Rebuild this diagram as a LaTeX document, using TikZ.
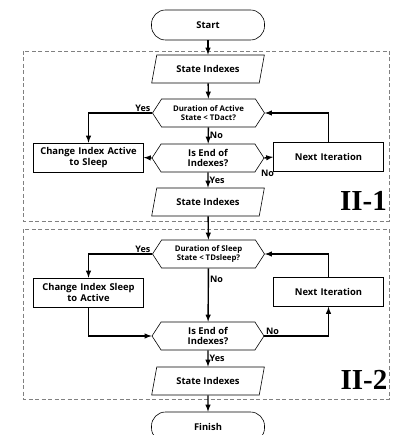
\documentclass[tikz,border=0pt]{standalone}
\usepackage{fontspec}
\setsansfont{Open Sans}
\newfontfamily\labelfont{Liberation Serif}
\usetikzlibrary{shapes.geometric,shapes.symbols,positioning}
\begin{document}
\begin{tikzpicture}[>=latex, x=1pt, y=-1pt,
  every node/.style={font=\sffamily\bfseries\fontsize{9.4}{10.5}\selectfont, align=center},
  term/.style={draw, rounded corners=14pt, minimum width=113pt, minimum height=30pt, line width=.6pt},
  io/.style={draw, trapezium, trapezium left angle=76, trapezium right angle=104, trapezium stretches=true, minimum width=113pt, minimum height=28pt, line width=.6pt},
  dec/.style={draw, signal, signal to=east and west, signal pointer angle=114, minimum width=112pt, minimum height=28pt, line width=.6pt, inner sep=1pt},
  proc/.style={draw, rectangle, text width=107pt, align=center, minimum height=29pt, line width=.6pt, inner sep=1.5pt},
  lbl/.style={inner sep=1pt, font=\sffamily\bfseries\fontsize{9}{9}\selectfont},
  small/.style={font=\sffamily\bfseries\fontsize{7.8}{9}\selectfont},
  line/.style={->, line width=1.4pt},
  grp/.style={draw=gray, dash pattern=on 4pt off 2.5pt, line width=.6pt}
]
\useasboundingbox (0,0) rectangle (393,435);
\draw[grp] (23,51) rectangle (389,221);
\draw[grp] (23,229) rectangle (389,399);
\node[term] (start) at (208,25) {Start};
\node[io] (si1) at (208,69) {State Indexes};
\node[dec, small] (dur1) at (208.5,113) {Duration of Active\\State < TDact?};
\node[proc] (chg1) at (88.5,157.5) {Change Index Active\\to Sleep};
\node[dec] (end1) at (208,158) {Is End of\\Indexes?};
\node[proc] (nxt1) at (328.5,157) {Next Iteration};
\node[io] (si2) at (208,202) {State Indexes};
\node[dec, small] (dur2) at (208.5,254) {Duration of Sleep\\State < TDsleep?};
\node[proc] (chg2) at (88.5,292.5) {Change Index Sleep\\to Active};
\node[dec] (end2) at (208,336) {Is End of\\Indexes?};
\node[proc] (nxt2) at (328.5,292) {Next Iteration};
\node[io] (si3) at (208,381) {State Indexes};
\node[term] (finish) at (208,427) {Finish};
\node[font=\labelfont\bfseries\fontsize{29}{29}\selectfont, inner sep=0pt] (p1) at (363.5,201) {II-1};
\node[font=\labelfont\bfseries\fontsize{29}{29}\selectfont, inner sep=0pt] (p2) at (364,380) {II-2};
\draw[line] (start) -- (si1);
\draw[line] (si1) -- (dur1);
\draw[line] (dur1.west) node[lbl, above left]{Yes} -| (chg1.north);
\draw[line] (dur1) -- node[lbl, right]{No} (end1);
\draw[line] (end1.west) -- (chg1.east);
\draw[line] (end1.east) node[lbl, below right=10pt and -5pt]{No} -- (nxt1.west);
\draw[line] (nxt1.north) |- (dur1.east);
\draw[line] (end1) -- node[lbl, right]{Yes} (si2);
\draw[line] (si2) -- (dur2);
\draw[line] (dur2.west) node[lbl, above left]{Yes} -| (chg2.north);
\draw[line] (dur2) -- node[lbl, right, pos=.2]{No} (end2);
\draw[line] (chg2.south) |- (end2.west);
\draw[line] (end2.east) node[lbl, above right]{No} -| (nxt2.south);
\draw[line] (nxt2.north) |- (dur2.east);
\draw[line] (end2) -- node[lbl, right]{Yes} (si3);
\draw[line] (si3) -- (finish);
\end{tikzpicture}
\end{document}
